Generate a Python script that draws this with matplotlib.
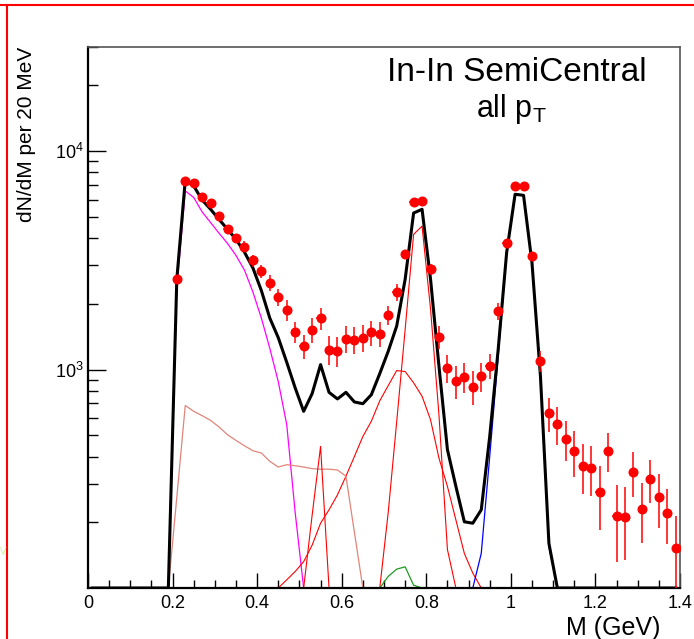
import numpy as np
import matplotlib
matplotlib.use('Agg')
import matplotlib.pyplot as plt
import matplotlib.ticker as mticker
from matplotlib.lines import Line2D
from matplotlib import rcParams

rcParams['font.family'] = 'Liberation Sans'
rcParams['mathtext.fontset'] = 'custom'
rcParams['mathtext.rm'] = 'Liberation Sans'
rcParams['mathtext.it'] = 'Liberation Sans:italic'
rcParams['mathtext.bf'] = 'Liberation Sans:bold'

## Measured spectrum (20 MeV bins, centres 0.21 ... 1.39 GeV)
mass = np.round(np.arange(0.21, 1.40, 0.02), 2)
counts = [2590, 7280, 7180, 6190, 5820, 5050, 4420, 4020, 3660, 3160,
          2820, 2500, 2150, 1880, 1483, 1279, 1525, 1714, 1235, 1213,
          1383, 1373, 1398, 1483, 1458, 1774, 2264, 3382, 5840, 5910,
          2880, 1412, 1018, 884, 926, 834, 931, 1043, 1850, 3810,
          6930, 6930, 3310, 1092, 630, 563, 481, 422, 363, 354,
          274, 425, 214, 212, 340, 231, 316, 261, 221, 153]
errors = [60, 120, 120, 120, 120, 130, 150, 160, 200, 205,
          205, 210, 185, 210, 165, 165, 195, 195, 190, 190,
          195, 190, 195, 195, 190, 177, 205, 145, 150, 150,
          170, 175, 150, 150, 145, 148, 145, 142, 170, 150,
          160, 160, 150, 120, 113, 111, 99, 99, 95, 91,
          89, 87, 82, 78, 78, 71, 71, 72, 62, 61]

## Cocktail components: (first bin centre, values every 20 MeV)
total_start = 0.01
total = [0, 0, 0, 0, 0, 0, 0, 0, 0, 0,
         2590, 7350, 6930, 5980, 5420, 4870, 4390, 3950, 3450, 2920,
         2300, 1720, 1400, 1080, 824, 644, 776, 1054, 787, 734,
         787, 711, 698, 767, 959, 1213, 1582, 2590, 5210, 5420,
         2600, 1035, 430, 292, 201, 198, 228, 494, 1235, 3430,
         6350, 6280, 3080, 931, 160, 0, 0, 0, 0, 0,
         0, 0, 0, 0, 0, 0, 0, 0, 0, 0]
eta_dalitz_start = 0.19
eta_dalitz = [0, 2350, 6580, 6140, 5270, 4710, 4210, 3780, 3330, 2855,
              2265, 1720, 1250, 880, 560, 221, 0]
omega_dalitz_start = 0.19
omega_dalitz = [0, 260, 685, 644, 615, 585, 546, 503, 474, 448,
                425, 415, 380, 358, 367, 363, 358, 352, 350, 350,
                347, 325, 180, 0, 0, 0, 0, 0, 0, 0,
                0, 0, 0, 0, 0, 0, 0, 0, 0, 0,
                0, 0, 0, 0, 0, 0, 0]
rho_start = 0.19
rho = [0, 0, 0, 0, 0, 0, 0, 0, 0, 0,
       0, 0, 0, 0, 109, 119, 132, 157, 198, 228,
       267, 325, 400, 494, 580, 720, 845, 990, 980, 870,
       755, 590, 393, 292, 205, 144, 117, 0]
eta_mumu_start = 0.51
eta_mumu = [0, 215, 445, 0]
omega_start = 0.69
omega = [0, 222, 577, 1525, 4160, 4540, 1900, 620, 150, 0]
omega_pi0_start = 0.69
omega_pi0 = [0, 113, 122, 125, 103, 0]
phi_start = 0.45
phi = [0, 0, 0, 0, 0, 0, 0, 0, 0, 0,
       0, 0, 0, 0, 0, 0, 0, 0, 0, 0,
       0, 0, 0, 0, 144, 400, 1150, 3400, 6350, 6280,
       3080, 930, 155, 0]

YMIN, YMAX = 100, 3.0e4


def draw_component(ax, m0, vals, **kw):
    x = m0 + 0.02 * np.arange(len(vals))
    y = np.clip(np.array(vals, dtype=float), YMIN, None)
    ax.plot(x, y, **kw)


fig = plt.figure(figsize=(6.94, 6.39), dpi=100, facecolor='white')
ax = fig.add_axes([88/694, 1-588/639, (680-88)/694, (588-47)/639])
ax.set_yscale('log')
ax.set_xlim(0, 1.4)
ax.set_ylim(YMIN, YMAX)

draw_component(ax, eta_dalitz_start, eta_dalitz, color='#ff00ff', lw=0.9)
draw_component(ax, rho_start, rho, color='#ff0000', lw=0.8)
draw_component(ax, phi_start, phi, color='#0000ff', lw=0.9)
draw_component(ax, omega_dalitz_start, omega_dalitz, color='#e0857a', lw=0.9)
draw_component(ax, eta_mumu_start, eta_mumu, color='#ff0000', lw=0.8)
draw_component(ax, omega_start, omega, color='#ff0000', lw=0.8)
draw_component(ax, omega_pi0_start, omega_pi0, color='#1f9a1f', lw=0.9)
draw_component(ax, total_start, total, color='black', lw=2.2, zorder=4)

ax.errorbar(mass, counts, yerr=errors, xerr=0.01, fmt='o', color='red',
            ms=6.2, elinewidth=1.1, capsize=0, zorder=5)

# axes style (ROOT-like)
ax.xaxis.set_major_locator(mticker.MultipleLocator(0.2))
ax.xaxis.set_minor_locator(mticker.MultipleLocator(0.05))
ax.xaxis.set_major_formatter(mticker.FuncFormatter(lambda v, p: '%g' % round(v, 2)))
ax.yaxis.set_major_locator(mticker.FixedLocator([1e3, 1e4]))
ax.yaxis.set_minor_locator(mticker.LogLocator(base=10, subs=np.arange(2, 10), numticks=20))
ax.yaxis.set_minor_formatter(mticker.NullFormatter())
ax.tick_params(axis='both', which='both', direction='in', top=False, right=False,
               labelsize=13, color='black')
ax.tick_params(axis='y', which='major', length=13, width=1.0, pad=3)
ax.tick_params(axis='y', which='minor', length=7, width=1.0)
ax.tick_params(axis='x', which='major', length=11, width=1.0, pad=5)
ax.tick_params(axis='x', which='minor', length=5.5, width=1.0)
for s in ['left', 'bottom']:
    ax.spines[s].set_linewidth(1.6)
    ax.spines[s].set_color('black')
for s in ['top', 'right']:
    ax.spines[s].set_linewidth(1.2)
    ax.spines[s].set_color('#555555')

ax.text(0.725, 0.953, 'In-In SemiCentral', transform=ax.transAxes,
        ha='center', va='center', fontsize=24)
ax.text(0.715, 0.886, r'all p$_{\mathrm{T}}$', transform=ax.transAxes,
        ha='center', va='center', fontsize=22)

fig.text(27/694, 1-47/639, 'dN/dM per 20 MeV', rotation=90, ha='center',
         va='top', fontsize=15)
fig.text(660/694, 1-628/639, 'M (GeV)', ha='right', va='center', fontsize=18)

# canvas frame and stray clipped glyph at the left edge
fig.add_artist(Line2D([0, 1], [1-5/639, 1-5/639], color='red', lw=1.5,
                      transform=fig.transFigure))
fig.add_artist(Line2D([7/694, 7/694], [0, 1-5/639], color='red', lw=1.5,
                      transform=fig.transFigure))
fig.text(0.0, 1-552/639, 'V', ha='left', va='center', fontsize=7, color='#c8f59a')

fig.savefig('out.png', dpi=100)
